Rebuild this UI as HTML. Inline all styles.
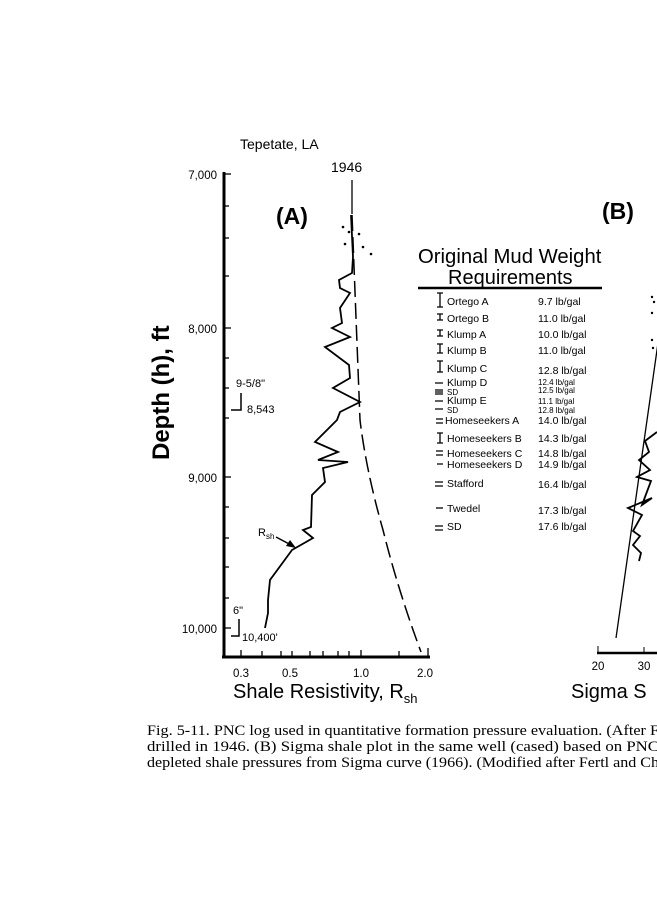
<!DOCTYPE html>
<html><head><style>
body{margin:0;background:#fff;}
svg text{font-family:"Liberation Sans",sans-serif;fill:#000;}
svg text.cap{font-family:"Liberation Serif",serif;font-size:15px;}
</style></head><body>
<svg width="657" height="900" xmlns="http://www.w3.org/2000/svg">
<rect width="657" height="900" fill="#fff"/>
<text x="240" y="149" font-size="14">Tepetate, LA</text>
<text x="331" y="172" font-size="14">1946</text>
<text x="276" y="224" font-size="23" font-weight="bold">(A)</text>
<text x="602" y="219" font-size="23" font-weight="bold">(B)</text>
<line x1="224" y1="172" x2="224" y2="658" stroke="#000" stroke-width="3"/>
<line x1="222" y1="657" x2="430" y2="657" stroke="#000" stroke-width="3"/>
<g stroke="#000" stroke-width="1.3">
<line x1="224" y1="174" x2="231" y2="174"/><line x1="224" y1="206" x2="229" y2="206"/><line x1="224" y1="238" x2="229" y2="238"/><line x1="224" y1="276" x2="229" y2="276"/>
<line x1="224" y1="328" x2="231" y2="328"/><line x1="224" y1="358" x2="229" y2="358"/><line x1="224" y1="388" x2="229" y2="388"/><line x1="224" y1="418" x2="229" y2="418"/>
<line x1="224" y1="477" x2="231" y2="477"/><line x1="224" y1="507" x2="229" y2="507"/><line x1="224" y1="538" x2="229" y2="538"/><line x1="224" y1="567" x2="229" y2="567"/><line x1="224" y1="598" x2="229" y2="598"/>
<line x1="224" y1="628" x2="231" y2="628"/>
<line x1="241" y1="657" x2="241" y2="650"/><line x1="262" y1="657" x2="262" y2="651"/><line x1="281" y1="657" x2="281" y2="651"/><line x1="292" y1="657" x2="292" y2="651"/><line x1="310" y1="657" x2="310" y2="651"/><line x1="323" y1="657" x2="323" y2="651"/><line x1="338" y1="657" x2="338" y2="651"/><line x1="349" y1="657" x2="349" y2="651"/><line x1="361" y1="657" x2="361" y2="650"/><line x1="399" y1="657" x2="399" y2="651"/><line x1="428" y1="657" x2="428" y2="648"/>
</g>
<g font-size="11.5" text-anchor="end">
<text x="217" y="179">7,000</text><text x="217" y="333">8,000</text><text x="217" y="482">9,000</text><text x="217" y="633">10,000</text>
</g>
<g font-size="11.5" text-anchor="middle">
<text x="241" y="677">0.3</text><text x="290" y="677">0.5</text><text x="361" y="677">1.0</text><text x="425" y="677">2.0</text>
</g>
<text x="233" y="698" font-size="20">Shale Resistivity, R<tspan font-size="13" dy="5">sh</tspan></text>
<text transform="translate(169,460) rotate(-90)" font-size="24" font-weight="bold">Depth (h), ft</text>
<text x="236" y="387" font-size="11">9-5/8"</text>
<path d="M241 393 V410 H231" stroke="#000" fill="none" stroke-width="1.5"/>
<text x="247" y="413" font-size="11">8,543</text>
<text x="233" y="614" font-size="11">6"</text>
<path d="M239 619 V636 H231" stroke="#000" fill="none" stroke-width="1.5"/>
<text x="242" y="641" font-size="11">10,400'</text>
<text x="258" y="536" font-size="11">R<tspan font-size="8" dy="3">sh</tspan></text>
<path d="M276 537 L293 546" stroke="#000" stroke-width="1.5"/><polygon points="296,548 286,546 290,540" fill="#000"/>
<line x1="352" y1="180" x2="352" y2="214" stroke="#000" stroke-width="1.3"/>
<path d="M351 215 L353 257 L352 273 L339 280 L340 288 L350 293 L340 308 L342 323 L332 328 L350 337 L325 347 L349 365 L350 378 L333 388 L360 402 L340 412 L337 420 L315 442 L338 452 L318 460 L348 462 L323 468 L325 482 L312 495 L311 527 L303 530 L313 538 L292 550 L270 580 L268 600 L268 613 L265 628" stroke="#000" stroke-width="1.8" fill="none"/>
<path d="M352 215 L360 420 Q366 470 383 530 Q398 590 421 652" stroke="#000" stroke-width="1.5" fill="none" stroke-dasharray="16,6"/>
<g fill="#000"><circle cx="343" cy="227" r="1.3"/><circle cx="349" cy="232" r="1.3"/><circle cx="359" cy="234" r="1.3"/><circle cx="345" cy="244" r="1.3"/><circle cx="363" cy="247" r="1.3"/><circle cx="371" cy="254" r="1.3"/></g>
<text x="418" y="263" font-size="20.3">Original Mud Weight</text>
<text x="448" y="284" font-size="20">Requirements</text>
<line x1="418" y1="288" x2="602" y2="288" stroke="#000" stroke-width="2.5"/>
<g font-size="10.5">
<text x="447" y="305">Ortego A</text><text x="538" y="305">9.7 lb/gal</text>
<text x="447" y="322">Ortego B</text><text x="538" y="322">11.0 lb/gal</text>
<text x="447" y="338">Klump A</text><text x="538" y="338">10.0 lb/gal</text>
<text x="447" y="354">Klump B</text><text x="538" y="354">11.0 lb/gal</text>
<text x="447" y="372">Klump C</text><text x="538" y="374">12.8 lb/gal</text>
<text x="447" y="386">Klump D</text>
<text x="447" y="404">Klump E</text>
<text x="445" y="424">Homeseekers A</text><text x="538" y="424">14.0 lb/gal</text>
<text x="447" y="442">Homeseekers B</text><text x="538" y="442">14.3 lb/gal</text>
<text x="447" y="457">Homeseekers C</text><text x="538" y="457">14.8 lb/gal</text>
<text x="447" y="468">Homeseekers D</text><text x="538" y="468">14.9 lb/gal</text>
<text x="447" y="487">Stafford</text><text x="538" y="488">16.4 lb/gal</text>
<text x="447" y="512">Twedel</text><text x="538" y="514">17.3 lb/gal</text>
<text x="447" y="530">SD</text><text x="538" y="530">17.6 lb/gal</text>
</g>
<g font-size="8">
<text x="447" y="395">SD</text><text x="447" y="413">SD</text>
<text x="538" y="385">12.4 lb/gal</text><text x="538" y="393">12.5 lb/gal</text><text x="538" y="404">11.1 lb/gal</text><text x="538" y="413">12.8 lb/gal</text>
</g>
<g stroke="#000" stroke-width="1.3">
<path d="M437 293 H443 M440 293 V307 M437 307 H443"/>
<path d="M437 314 H443 M440 314 V320 M437 320 H443"/>
<path d="M437 330 H443 M440 330 V336 M437 336 H443"/>
<path d="M437 344 H443 M440 344 V353 M437 353 H443"/>
<path d="M437 361 H443 M440 361 V372 M437 372 H443"/>
<path d="M435 383 H443 M435 390 H443 M435 392 H443 M435 394 H443 M435 401 H443 M435 409 H443"/>
<path d="M436 419 H443 M436 423 H443"/>
<path d="M437 433 H443 M440 433 V443 M437 443 H443"/>
<path d="M436 451 H443 M436 455 H443 M437 464 H443"/>
<path d="M435 482 H443 M435 486 H443"/>
<path d="M436 508 H443"/>
<path d="M435 526 H443 M435 530 H443"/>
</g>
<line x1="597" y1="653" x2="657" y2="653" stroke="#000" stroke-width="2.5"/>
<line x1="598" y1="653" x2="598" y2="646" stroke="#000"/><line x1="644" y1="653" x2="644" y2="647" stroke="#000"/>
<text x="598" y="670" font-size="11.5" text-anchor="middle">20</text>
<text x="644" y="670" font-size="11.5" text-anchor="middle">30</text>
<text x="571" y="698" font-size="20">Sigma S</text>
<line x1="616" y1="638" x2="658" y2="343" stroke="#000" stroke-width="1.3"/>
<path d="M657 432 L645 441 L649 452 L639 460 L650 470 L637 477 L651 481 L642 505 L652 498 L628 508 L642 515 L633 531 L640 536 L633 545 L641 553 L639 561" stroke="#000" stroke-width="1.8" fill="none"/>
<g fill="#000"><circle cx="652" cy="297" r="1.2"/><circle cx="654" cy="302" r="1.2"/><circle cx="652" cy="313" r="1.2"/><circle cx="652" cy="340" r="1.2"/><circle cx="653" cy="348" r="1.2"/></g>
<text class="cap" x="147" y="735" textLength="512" lengthAdjust="spacingAndGlyphs">Fig. 5-11. PNC log used in quantitative formation pressure evaluation. (After F</text>
<text class="cap" x="147" y="751" textLength="512" lengthAdjust="spacingAndGlyphs">drilled in 1946. (B) Sigma shale plot in the same well (cased) based on PNC</text>
<text class="cap" x="147" y="767" textLength="512" lengthAdjust="spacingAndGlyphs">depleted shale pressures from Sigma curve (1966). (Modified after Fertl and Ch</text>
</svg>
</body></html>
